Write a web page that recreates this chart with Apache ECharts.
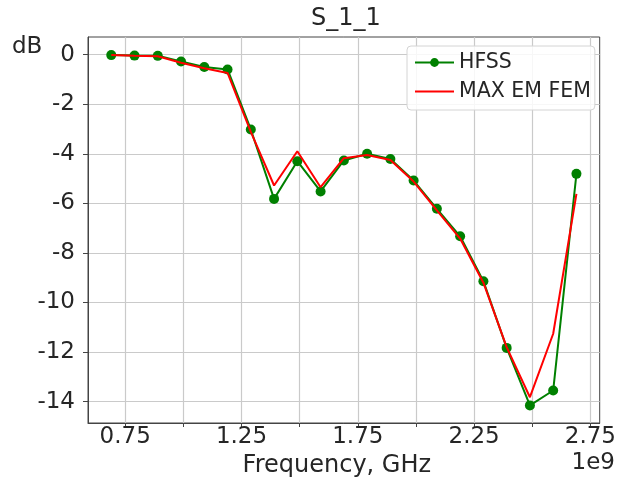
<!DOCTYPE html>
<html>
<head>
<meta charset="utf-8">
<script src="https://cdn.jsdelivr.net/npm/echarts@6/dist/echarts.min.js"></script>
<style>html,body{margin:0;padding:0;background:#fff;}#c{width:619px;height:484px;}</style>
</head>
<body>
<div id="c"></div>
<script>
// Frequency in units of 1e9 Hz (GHz)
var freq = [0.69, 0.79, 0.89, 0.99, 1.09, 1.19, 1.29, 1.39, 1.49, 1.59, 1.69, 1.79, 1.89, 1.99, 2.09, 2.19, 2.29, 2.39, 2.49, 2.59, 2.69];
var hfss = [-0.02, -0.04, -0.05, -0.28, -0.50, -0.60, -3.02, -5.82, -4.30, -5.52, -4.27, -4.00, -4.21, -5.08, -6.22, -7.33, -9.14, -11.83, -14.15, -13.55, -4.81];
var maxEmFem = [-0.02, -0.05, -0.07, -0.33, -0.55, -0.74, -3.12, -5.28, -3.90, -5.35, -4.18, -4.05, -4.25, -5.12, -6.28, -7.42, -9.20, -11.80, -13.82, -11.26, -5.62];
var xTickValues = [0.75, 1.0, 1.25, 1.5, 1.75, 2.0, 2.25, 2.5, 2.75];
var xLabelValues = [0.75, 1.25, 1.75, 2.25, 2.75];
var yTickValues = [0, -2, -4, -6, -8, -10, -12, -14];
var seriesNames = ['HFSS', 'MAX EM FEM'];

var FONT = 'DejaVu Sans';
var TXT = '#262626';

function pairs(xs, ys) { return xs.map(function (x, i) { return [x, ys[i]]; }); }

var chart = echarts.init(document.getElementById('c'), null, { renderer: 'canvas' });
chart.setOption({
  animation: false,
  backgroundColor: '#ffffff',
  title: {
    text: 'S_1_1', left: 311, top: 7, padding: 0,
    textStyle: { fontFamily: FONT, fontSize: 24, fontWeight: 'normal', color: TXT }
  },
  grid: {
    left: 88, right: 13, top: 37, bottom: 61,
    show: true, borderColor: '#444', borderWidth: 1, backgroundColor: 'transparent'
  },
  legend: {
    orient: 'vertical', left: 407, top: 46,
    padding: [6, 4, 8, 7],
    itemWidth: 39, itemHeight: 11, itemGap: 8, itemTextGap: 7,
    backgroundColor: 'rgba(255,255,255,0.85)', borderColor: '#d4d4d4', borderWidth: 1, borderRadius: 4,
    textStyle: { fontFamily: FONT, fontSize: 20.5, color: TXT, lineHeight: 20 },
    data: [
      { name: seriesNames[0] },
      { name: seriesNames[1], itemStyle: { opacity: 0 } }
    ]
  },
  xAxis: {
    type: 'value', min: 0.59, max: 2.79,
    name: 'Frequency, GHz', nameLocation: 'middle', nameGap: 26,
    nameTextStyle: { fontFamily: FONT, fontSize: 24, color: TXT, padding: [0, 14, 0, 0] },
    axisLine: { show: true, onZero: false, lineStyle: { color: '#444', width: 1 } },
    axisTick: { show: true, length: 4, customValues: xTickValues, lineStyle: { color: '#444', width: 1 } },
    axisLabel: { customValues: xLabelValues, margin: 3, fontFamily: FONT, fontSize: 23, color: TXT,
      formatter: function (v) { return v.toFixed(2); } },
    splitLine: { show: true, lineStyle: { color: '#cacaca', width: 1.2 } }
  },
  yAxis: {
    type: 'value', min: -14.86, max: 0.71,
    axisLine: { show: true, onZero: false, lineStyle: { color: '#444', width: 1 } },
    axisTick: { show: true, length: 5, customValues: yTickValues, lineStyle: { color: '#444', width: 1 } },
    axisLabel: { customValues: yTickValues, margin: 13, fontFamily: FONT, fontSize: 23, color: TXT,
      formatter: function (v) { return String(Math.round(v)); } },
    splitLine: { show: true, lineStyle: { color: '#cacaca', width: 1.2 } }
  },
  graphic: [
    { type: 'text', left: 12, top: 36, style: { text: 'dB', fontFamily: FONT, fontSize: 23, fill: TXT } },
    { type: 'text', right: 4, top: 452, style: { text: '1e9', fontFamily: FONT, fontSize: 23, fill: TXT } }
  ],
  series: [
    {
      name: seriesNames[0], type: 'line', data: pairs(freq, hfss),
      symbol: 'circle', symbolSize: 10, showSymbol: true,
      itemStyle: { color: '#008000' },
      lineStyle: { color: '#008000', width: 2 }, z: 2
    },
    {
      name: seriesNames[1], type: 'line', data: pairs(freq, maxEmFem),
      symbol: 'none', showSymbol: false,
      itemStyle: { color: '#ff0000' },
      lineStyle: { color: '#ff0000', width: 2 }, z: 3
    }
  ]
});
</script>
</body>
</html>
